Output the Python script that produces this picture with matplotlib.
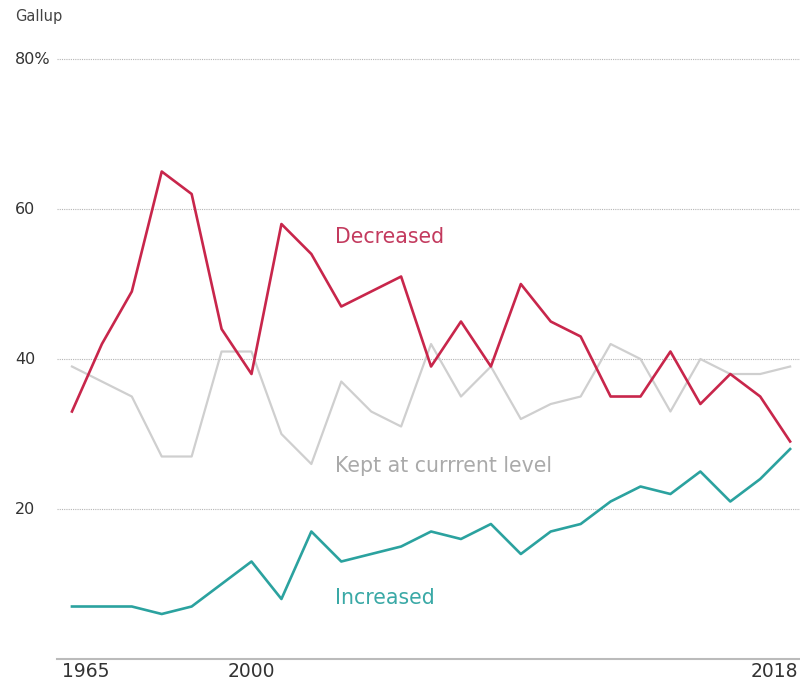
import matplotlib
matplotlib.use("Agg")
import matplotlib.pyplot as plt
import matplotlib.transforms as mtransforms

# Gallup survey points (evenly spaced, one per survey)
years = [1965, 1977, 1986, 1993, 1995, 1999, 2000, 2001, 2002, 2003, 2004, 2005,
         2006, 2007, 2008, 2009, 2010, 2011, 2012, 2013, 2014, 2015, 2016, 2017, 2018]
decreased = [33, 42, 49, 65, 62, 44, 38, 58, 54, 47, 49, 51,
             39, 45, 39, 50, 45, 43, 35, 35, 41, 34, 38, 35, 29]
kept = [39, 37, 35, 27, 27, 41, 41, 30, 26, 37, 33, 31,
        42, 35, 39, 32, 34, 35, 42, 40, 33, 40, 38, 38, 39]
increased = [7, 7, 7, 6, 7, 10, 13, 8, 17, 13, 14, 15,
             17, 16, 18, 14, 17, 18, 21, 23, 22, 25, 21, 24, 28]
labeled_years = [1965, 2000, 2018]
y_ticks = [20, 40, 60, 80]

red = "#c8264b"
gray = "#cfcfcf"
teal = "#2ba29f"

fig = plt.figure(figsize=(8, 6.84), dpi=100)
ax = fig.add_axes([57 / 800, 25 / 684, 743 / 800, 605 / 684])

x = list(range(len(years)))
ax.plot(x, kept, color=gray, linewidth=1.6, zorder=2)
ax.plot(x, increased, color=teal, linewidth=1.9, zorder=3)
ax.plot(x, decreased, color=red, linewidth=1.9, zorder=4)

ax.set_xlim(-0.5, 24.33)
ax.set_ylim(0, 80.67)

for s in ["top", "right", "left"]:
    ax.spines[s].set_visible(False)
ax.spines["bottom"].set_color("#bbbbbb")
ax.spines["bottom"].set_linewidth(1.5)

for v in y_ticks:
    ax.axhline(v, color="#b5b5b5", linewidth=0.8, linestyle=(0, (1, 1)), zorder=1)
ax.set_yticks([])

# y labels, left-aligned near the figure edge
trans_y = mtransforms.blended_transform_factory(fig.transFigure, ax.transData)
for v in y_ticks:
    lbl = f"{v}%" if v == 80 else str(v)
    ax.text(15 / 800, v, lbl, transform=trans_y, ha="left", va="center",
            fontsize=11.5, color="#333333")

# x labels
ax.set_xticks([])
offsets = {1965: 14, 2000: 0, 2018: -16}
for yr in labeled_years:
    i = years.index(yr)
    t = mtransforms.offset_copy(ax.get_xaxis_transform(), fig=fig,
                                x=offsets[yr] * 0.72, y=0, units="points")
    ax.text(i, -0.005, str(yr), transform=t, ha="center", va="top",
            fontsize=13.5, color="#333333")

# series labels
ax.text(8.8, 56.3, "Decreased", color="#c33a5e", fontsize=14.8, va="center", ha="left")
ax.text(8.8, 25.8, "Kept at currrent level", color="#aaaaaa", fontsize=14.8, va="center", ha="left")
ax.text(8.8, 8.1, "Increased", color="#3aa9a6", fontsize=14.8, va="center", ha="left")

fig.text(15 / 800, 1 - 17 / 684, "Gallup", fontsize=10.5, color="#444444", ha="left", va="center")

fig.savefig("out.png", dpi=100)
